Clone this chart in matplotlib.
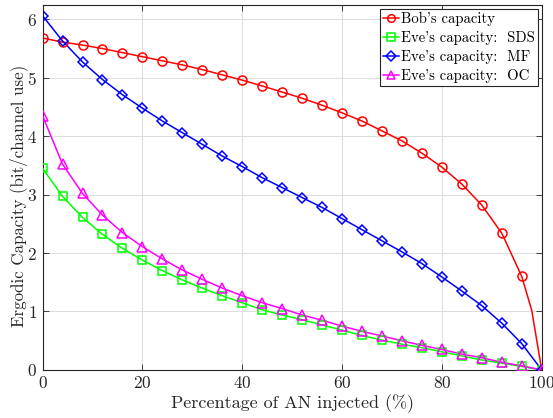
import matplotlib
matplotlib.use("Agg")
import matplotlib.pyplot as plt
from matplotlib.lines import Line2D

plt.rcParams['font.family'] = ['cmr10', 'DejaVu Serif']
plt.rcParams['mathtext.fontset'] = 'cm'
plt.rcParams['axes.formatter.use_mathtext'] = True

x_pct = [0, 4, 8, 12, 16, 20, 24, 28, 32, 36, 40, 44, 48, 52, 56, 60, 64, 68, 72, 76, 80, 84, 88, 92, 96, 100]

bob = [5.68, 5.61, 5.56, 5.50, 5.43, 5.36, 5.29, 5.22, 5.14, 5.05, 4.96, 4.86, 4.755, 4.65, 4.53, 4.40,
       4.26, 4.09, 3.92, 3.71, 3.47, 3.18, 2.82, 2.34, 1.60, 0.0]
# extra point on Bob's curve between the last two markers (line only)
bob_extra_x = [98]
bob_extra_y = [1.02]

eve_sds = [3.45, 2.97, 2.61, 2.32, 2.08, 1.88, 1.70, 1.54, 1.40, 1.27, 1.15, 1.03, 0.94, 0.86, 0.77, 0.68,
           0.59, 0.51, 0.44, 0.38, 0.31, 0.24, 0.17, 0.115, 0.06, 0.0]
eve_mf = [6.06, 5.63, 5.27, 4.97, 4.71, 4.48, 4.26, 4.06, 3.86, 3.66, 3.48, 3.29, 3.12, 2.95, 2.78, 2.59,
          2.40, 2.21, 2.02, 1.82, 1.59, 1.35, 1.10, 0.80, 0.45, 0.0]
eve_oc = [4.35, 3.52, 3.02, 2.65, 2.35, 2.11, 1.90, 1.71, 1.55, 1.40, 1.27, 1.15, 1.05, 0.94, 0.85, 0.75,
          0.66, 0.58, 0.50, 0.42, 0.35, 0.27, 0.21, 0.13, 0.07, 0.0]

labels = ["Bob's capacity", "Eve's capacity:  SDS", "Eve's capacity:  MF", "Eve's capacity:  OC"]
colors = ['#ff0000', '#00ff00', '#0000ff', '#ff00ff']
markers = ['o', 's', 'D', '^']
xticks = [0, 20, 40, 60, 80, 100]
yticks = [0, 1, 2, 3, 4, 5, 6]

fig = plt.figure(figsize=(5.53, 4.18), dpi=100)
ax = fig.add_axes([0.077, 0.115, 0.9026, 0.873])

lw = 1.1
ms = 6.5
bx = x_pct[:-1] + bob_extra_x + [x_pct[-1]]
by = bob[:-1] + bob_extra_y + [bob[-1]]
ax.plot(bx, by, color=colors[0], lw=lw, zorder=3)
ax.plot(x_pct[:-1], bob[:-1], ls='none', marker=markers[0], ms=ms, mfc='none', mec=colors[0], mew=1.1, zorder=4)

series = [eve_sds, eve_mf, eve_oc]
for s, c, m in zip(series, colors[1:], markers[1:]):
    ax.plot(x_pct, s, color=c, lw=lw, zorder=3)
    msz = ms * (0.85 if m == 'D' else (0.95 if m == 's' else 1.0))
    ax.plot(x_pct, s, ls='none', marker=m, ms=msz, mfc='none', mec=c, mew=1.1, zorder=4)

handles = []
for lab, c, m in zip(labels, colors, markers):
    handles.append(Line2D([0], [0], color=c, lw=lw, marker=m, ms=5.5, mfc='none', mec=c, mew=1.1))
leg = ax.legend(handles, labels, loc='upper right', bbox_to_anchor=(0.993, 0.99), fontsize=10.6,
                handlelength=1.1, handletextpad=0.15, borderpad=0.2, labelspacing=0.35,
                borderaxespad=0.0, fancybox=False, framealpha=1, edgecolor='#262626')
leg.get_frame().set_linewidth(0.8)

ax.set_xlim(0, 100)
ax.set_ylim(0, 6.245)
ax.set_xticks(xticks)
ax.set_yticks(yticks)
ax.grid(True, color='#dedede', lw=0.8)
ax.set_axisbelow(True)
ax.tick_params(direction='in', top=True, right=True, length=4, width=0.6, colors='#262626', labelsize=12.5, pad=4)
for sp in ax.spines.values():
    sp.set_color('#262626')
    sp.set_linewidth(0.8)
ax.set_xlabel('Percentage of AN injected (%)', fontsize=13, color='#262626', labelpad=2)
ax.set_ylabel('Ergodic Capacity (bit/channel use)', fontsize=12.2, color='#262626', labelpad=1)
ax.yaxis.set_label_coords(-0.03, 0.478)

fig.savefig('out.png', dpi=100)
